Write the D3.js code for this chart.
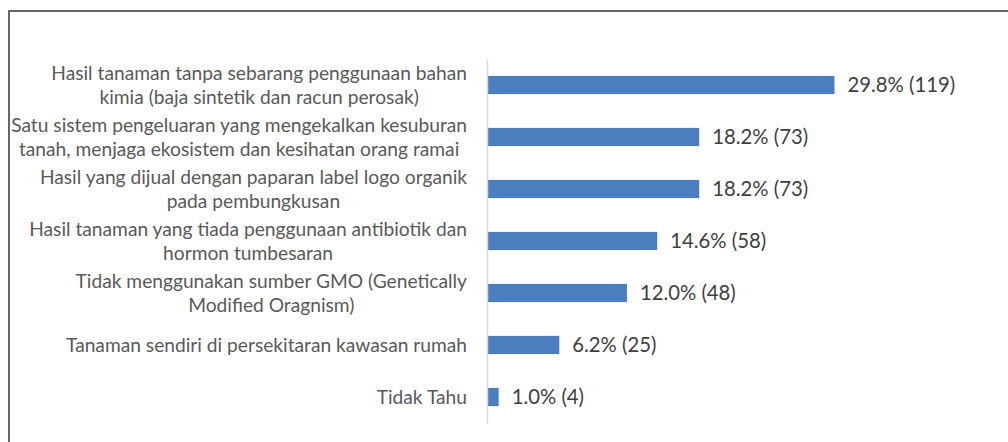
<!DOCTYPE html>
<html>
<head>
<meta charset="utf-8">
<script src="https://cdn.jsdelivr.net/npm/d3@7"></script>
<style>
  body { margin: 0; background: #fff; }
  svg { display: block; }
</style>
</head>
<body>
<div class="bar-chart"></div>
<script>
// ====================== Data ======================
const categories = [
  "Hasil tanaman tanpa sebarang penggunaan bahan|kimia (baja sintetik dan racun perosak)",
  "Satu sistem pengeluaran yang mengekalkan kesuburan|tanah, menjaga ekosistem dan kesihatan orang ramai",
  "Hasil yang dijual dengan paparan label logo organik|pada pembungkusan",
  "Hasil tanaman yang tiada penggunaan antibiotik dan|hormon tumbesaran",
  "Tidak menggunakan sumber GMO (Genetically|Modified Oragnism)",
  "Tanaman sendiri di persekitaran kawasan rumah",
  "Tidak Tahu"
];
const percents = [29.8, 18.2, 18.2, 14.6, 12.0, 6.2, 1.0];
const counts = [119, 73, 73, 58, 48, 25, 4];

// ====================== Chart ======================
const w = 1008;
const h = 442;

const axisX = 487;
const labelRight = 467;

const ds = categories.map((c, i) => ({ cat: c, pct: percents[i], n: counts[i] }));

const svg = d3.select(".bar-chart").append("svg")
  .attr("width", w)
  .attr("height", h);

// frame (runs off right and bottom edges like the cropped original)
svg.append("rect")
  .attr("x", 9)
  .attr("y", 11)
  .attr("width", 1100)
  .attr("height", 600)
  .attr("fill", "none")
  .attr("stroke", "#666")
  .attr("stroke-width", 2);

const xScale = d3.scaleLinear()
  .domain([0, 35])
  .range([axisX, axisX + 35 * 11.66]);

const yScale = d3.scaleBand()
  .domain(categories)
  .range([59, 423])
  .paddingInner(0.65)
  .paddingOuter(0.325);

// bars
svg.selectAll("rect.bar")
  .data(ds)
  .enter().append("rect")
  .attr("class", "bar")
  .attr("x", xScale(0))
  .attr("y", d => yScale(d.cat))
  .attr("width", d => xScale(d.pct) - xScale(0))
  .attr("height", yScale.bandwidth())
  .attr("fill", "#4a7ebf");

// axis line
const yAxisGen = d3.axisLeft(yScale).tickSize(0).tickFormat("");
const yAxis = svg.append("g")
  .attr("transform", "translate(" + axisX + ",0)")
  .call(yAxisGen);
yAxis.select(".domain").attr("stroke", "#d9d9d9").attr("stroke-width", 1.5);

// value labels
svg.selectAll("text.val")
  .data(ds)
  .enter().append("text")
  .attr("class", "val")
  .attr("x", d => xScale(d.pct) + 13)
  .attr("y", d => yScale(d.cat) + yScale.bandwidth() / 2)
  .attr("dy", "0.36em")
  .attr("font-family", "Lato, 'Open Sans', sans-serif")
  .attr("font-size", 20.3)
  .attr("fill", "#404040")
  .text(d => d.pct.toFixed(1) + "% (" + d.n + ")");

// category labels: block right aligned, lines centred within block
const lineH = 24.5;
ds.forEach(d => {
  const lines = d.cat.split("|");
  const cy = yScale(d.cat) + yScale.bandwidth() / 2;
  const g = svg.append("g");
  const texts = lines.map((ln, i) => g.append("text")
    .attr("y", cy + (i - (lines.length - 1) / 2) * lineH)
    .attr("dy", "0.36em")
    .attr("font-family", "Lato, 'Open Sans', sans-serif")
    .attr("font-size", 19.2)
    .attr("fill", "#595959")
    .attr("text-anchor", "middle")
    .text(ln));
  const maxW = d3.max(texts, t => t.node().getComputedTextLength());
  texts.forEach(t => t.attr("x", labelRight - maxW / 2));
});
</script>
</body>
</html>
